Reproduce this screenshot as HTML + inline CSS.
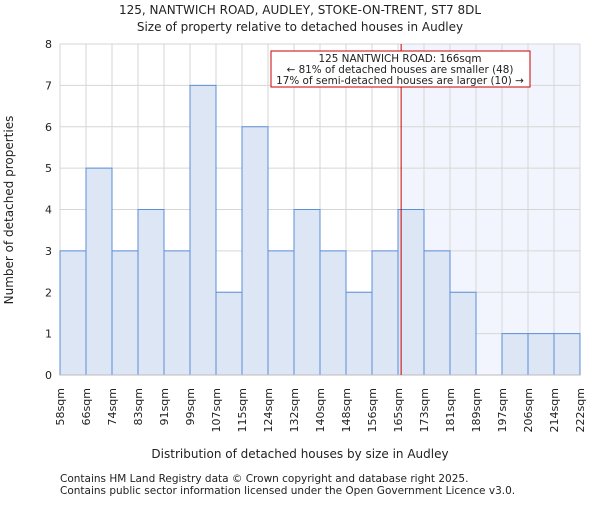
<!DOCTYPE html>
<html><head><meta charset="utf-8"><style>
body{margin:0;background:#fff;font-family:"Liberation Sans","DejaVu Sans",sans-serif}
svg text{font-family:"DejaVu Sans","Liberation Sans",sans-serif;fill:#222}
</style></head><body>
<svg width="600" height="500" viewBox="0 0 600 500">
<text x="300" y="14" text-anchor="middle" font-size="12">125, NANTWICH ROAD, AUDLEY, STOKE-ON-TRENT, ST7 8DL</text>
<text x="300" y="31" text-anchor="middle" font-size="12">Size of property relative to detached houses in Audley</text>
<g id="plot"></g>
<text x="300" y="458" text-anchor="middle" font-size="12">Distribution of detached houses by size in Audley</text>
<text transform="translate(13,210) rotate(-90)" text-anchor="middle" font-size="12">Number of detached properties</text>
<text x="60" y="482" font-size="10.5" fill="#444">Contains HM Land Registry data © Crown copyright and database right 2025.</text>
<text x="60" y="494" font-size="10.5" fill="#444">Contains public sector information licensed under the Open Government Licence v3.0.</text>
</svg>
<script>
const categories=["58sqm","66sqm","74sqm","83sqm","91sqm","99sqm","107sqm","115sqm","124sqm","132sqm","140sqm","148sqm","156sqm","165sqm","173sqm","181sqm","189sqm","197sqm","206sqm","214sqm","222sqm"];
const values=[3,5,3,4,3,7,2,6,3,4,3,2,3,4,3,2,0,1,1,1];
const yTicks=[0,1,2,3,4,5,6,7,8];
const markerBin=13.12;
const NS="http://www.w3.org/2000/svg";
const g=document.getElementById('plot');
const X0=60,X1=580,Y0=375,Y1=44,n=values.length;
const bw=(X1-X0)/n;
const x=i=>X0+i*bw;
const y=v=>Y0-(v/8)*(Y0-Y1);
function mk(t,a){const e=document.createElementNS(NS,t);for(const k in a)e.setAttribute(k,a[k]);g.appendChild(e);return e;}
let e;
const mx=x(markerBin);
e=mk('rect',{x:mx,y:Y1,width:X1-mx,height:Y0-Y1,fill:'#f2f5fd'});


for(let i=0;i<=n;i++){e=mk('line',{x1:x(i),x2:x(i),y1:Y1,y2:Y0,stroke:'#d6d6d6','stroke-width':1});

}
yTicks.forEach(t=>{e=mk('line',{x1:X0,x2:X1,y1:y(t),y2:y(t),stroke:'#d6d6d6','stroke-width':1});


e=mk('text',{x:X0-8,y:y(t)+4,'text-anchor':'end','font-size':11});e.textContent=t;

});
values.forEach((v,i)=>{if(v<=0)return;e=mk('rect',{x:x(i),y:y(v),width:bw,height:Y0-y(v),fill:'#dce6f4',stroke:'#5b8fd6','stroke-width':1});

});
e=mk('line',{x1:X0,x2:X1,y1:Y0,y2:Y0,stroke:'#bbb'});


categories.forEach((c,i)=>{e=mk('text',{transform:`translate(${x(i)+4},388) rotate(-90)`,'text-anchor':'end','font-size':11});e.textContent=c;

});
e=mk('line',{x1:mx,x2:mx,y1:Y1,y2:Y0,stroke:'#cc0000','stroke-width':1});


e=mk('rect',{x:271,y:51,width:259,height:36,fill:'#fff',stroke:'#cc0000','stroke-width':1});


["125 NANTWICH ROAD: 166sqm","← 81% of detached houses are smaller (48)","17% of semi-detached houses are larger (10) →"].forEach((s,k)=>{e=mk('text',{x:400,y:62+k*11,'text-anchor':'middle','font-size':10.4});e.textContent=s;

});
</script>
</body></html>
